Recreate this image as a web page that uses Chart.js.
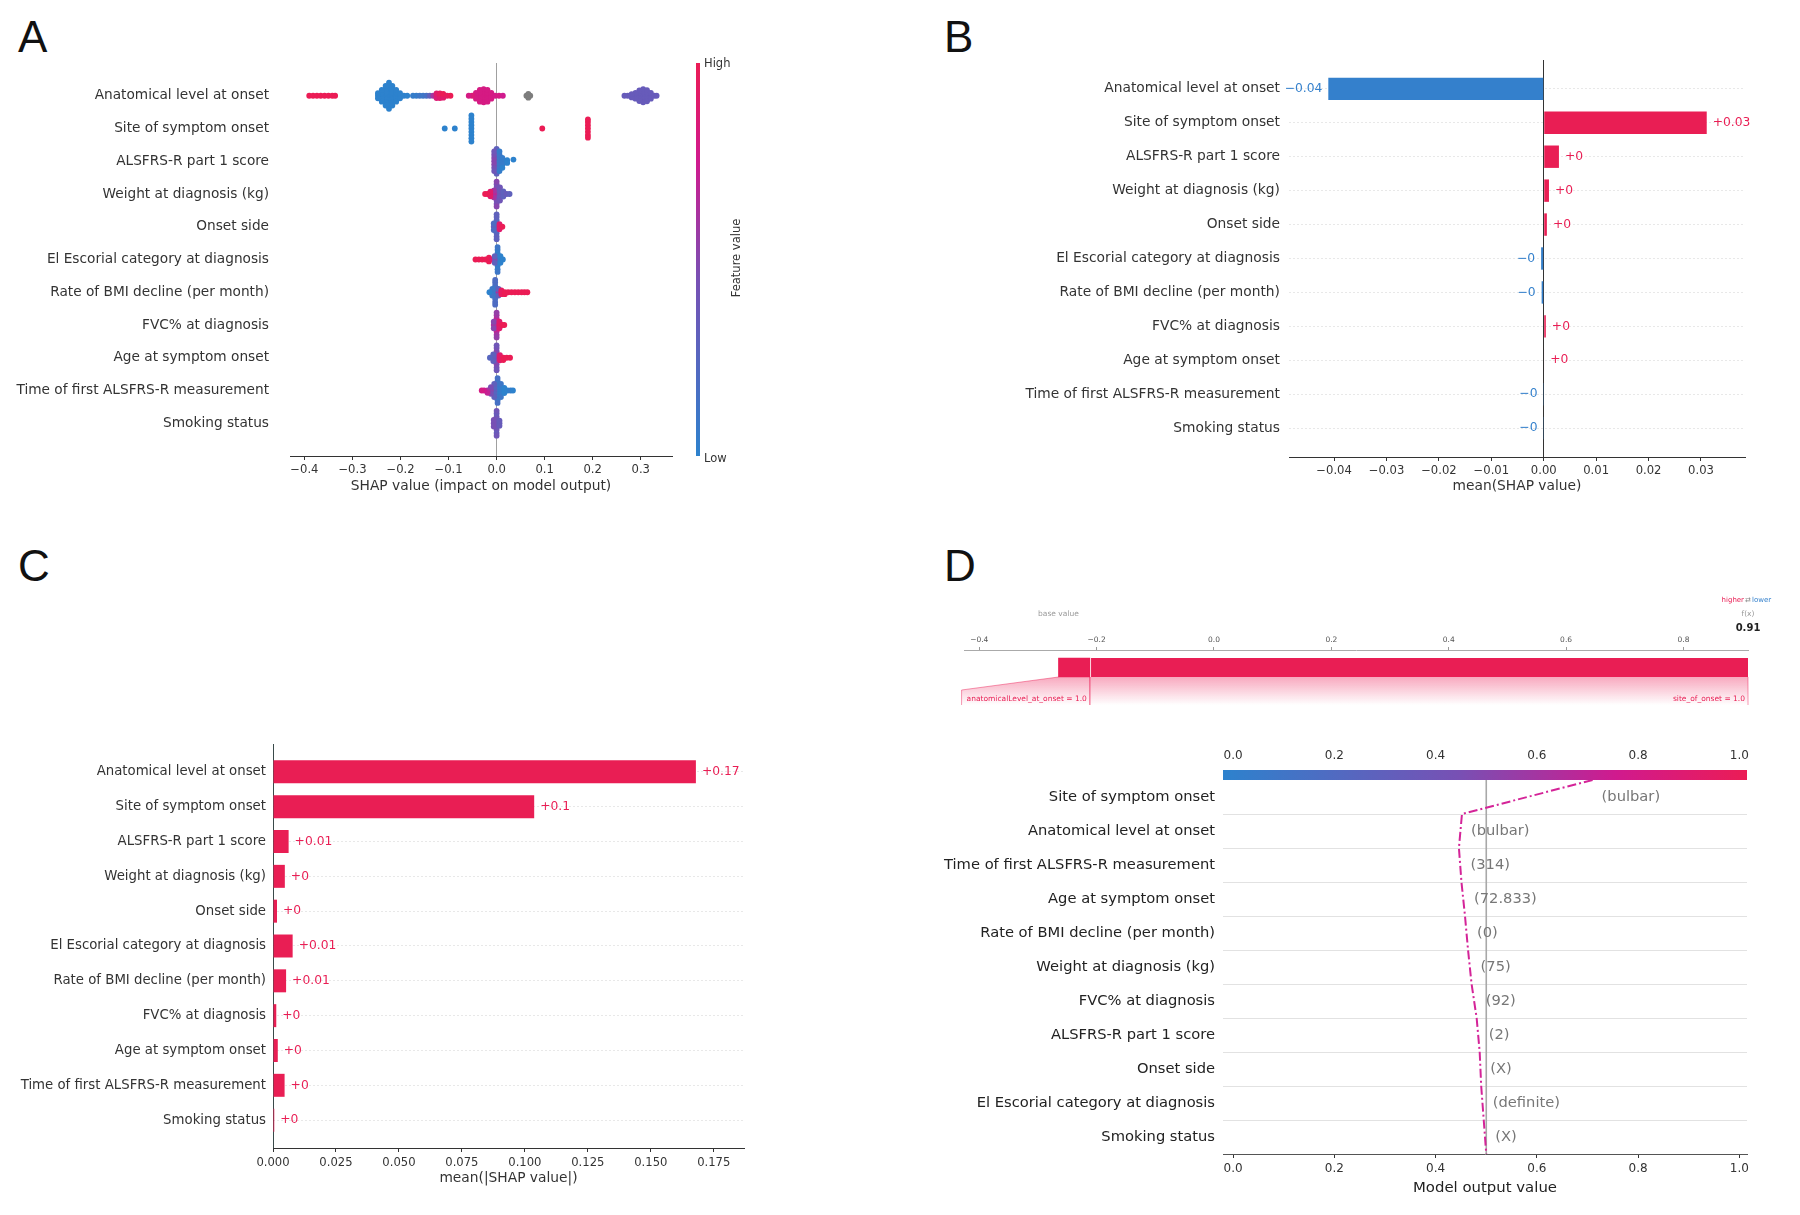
<!DOCTYPE html>
<html>
<head>
<meta charset="utf-8">
<title>SHAP explanations</title>
<script src="https://cdn.jsdelivr.net/npm/chart.js@4.4.1/dist/chart.umd.min.js"></script>
<style>
  html, body { margin: 0; padding: 0; background: #fff; }
  body { position: relative; width: 1800px; height: 1215px; overflow: hidden; font-family: "DejaVu Sans", sans-serif; color: #333; }
  canvas { position: absolute; }
  .letter { position: absolute; font-family: "Liberation Sans", Arial, sans-serif; font-size: 44px; line-height: 1; color: #111; }
  .cbar { position: absolute; left: 696px; top: 63px; width: 4px; height: 393px;
    background: linear-gradient(to bottom, rgb(235,28,85), rgb(208,26,142) 25%, rgb(120,80,180) 55%, rgb(45,130,205)); }
  .cbar-label { position: absolute; font-size: 11.5px; color: #333; white-space: nowrap; }
</style>
</head>
<body>
<div class="letter" style="left:18px;top:15px">A</div>
<div class="letter" style="left:944px;top:15px">B</div>
<div class="letter" style="left:18px;top:544px">C</div>
<div class="letter" style="left:944px;top:544px">D</div>

<canvas id="summaryChart" width="760" height="460" style="left:0;top:50px"></canvas>
<div class="cbar"></div>
<div class="cbar-label" style="left:704px;top:56px">High</div>
<div class="cbar-label" style="left:704px;top:451px">Low</div>
<div class="cbar-label" style="left:736px;top:258px;transform:translate(-50%,-50%) rotate(-90deg)">Feature value</div>

<canvas id="meanChart" width="860" height="460" style="left:940px;top:50px"></canvas>
<canvas id="absChart" width="780" height="470" style="left:0;top:740px"></canvas>
<canvas id="forceChart" width="840" height="130" style="left:940px;top:590px"></canvas>
<canvas id="decisionChart" width="860" height="480" style="left:940px;top:735px"></canvas>

<script>
const FEATURES = [
  "Anatomical level at onset",
  "Site of symptom onset",
  "ALSFRS-R part 1 score",
  "Weight at diagnosis (kg)",
  "Onset side",
  "El Escorial category at diagnosis",
  "Rate of BMI decline (per month)",
  "FVC% at diagnosis",
  "Age at symptom onset",
  "Time of first ALSFRS-R measurement",
  "Smoking status",
];

// beeswarm points per feature: [shap value, vertical offset in rows, feature value 0 (low) .. 1 (high), null = missing]
const SWARM_ANATOMICAL = [
  [-0.390,0,1],[-0.382,0,1],[-0.374,0,1],[-0.366,0,1],[-0.358,0,1],[-0.350,0,1],[-0.342,0,1],[-0.336,0,1],
  [-0.224,0,0],[-0.224,0.1,0],[-0.224,-0.1,0],[-0.224,0.2,0],[-0.224,-0.2,0],[-0.224,0.3,0],[-0.224,-0.3,0],[-0.224,0.4,0],[-0.224,-0.4,0],
  [-0.231,0,0],[-0.231,0.1,0],[-0.231,-0.1,0],[-0.231,0.2,0],[-0.231,-0.2,0],[-0.231,0.3,0],[-0.231,-0.3,0],
  [-0.217,0,0],[-0.217,0.1,0],[-0.217,-0.1,0],[-0.217,0.2,0],[-0.217,-0.2,0],[-0.217,0.3,0],[-0.217,-0.3,0],
  [-0.239,0,0],[-0.239,0.1,0],[-0.239,-0.1,0],[-0.239,0.18,0],[-0.239,-0.18,0],
  [-0.209,0,0],[-0.209,0.1,0],[-0.209,-0.1,0],[-0.209,0.18,0],[-0.209,-0.18,0],
  [-0.247,0,0],[-0.247,0.08,0],[-0.247,-0.08,0],
  [-0.201,0,0],[-0.201,0.08,0],[-0.201,-0.08,0],
  [-0.193,0,0],[-0.186,0,0],
  [-0.174,0,0.05],[-0.167,0,0.05],[-0.160,0,0.1],[-0.153,0,0.1],[-0.146,0,0.15],[-0.139,0,0.3],[-0.132,0,0.6],
  [-0.125,0,0.9],[-0.125,0.07,0.85],[-0.125,-0.07,0.9],
  [-0.118,0,0.95],[-0.118,0.07,0.9],[-0.118,-0.07,0.95],
  [-0.111,0,1],[-0.111,0.06,0.9],[-0.111,-0.06,1],
  [-0.103,0,0.95],[-0.096,0,1],
  [-0.027,0,0.8],[-0.027,0.1,0.8],[-0.027,-0.1,0.8],[-0.027,0.2,0.8],[-0.027,-0.2,0.8],
  [-0.035,0,0.8],[-0.035,0.1,0.8],[-0.035,-0.1,0.8],[-0.035,0.18,0.8],[-0.035,-0.18,0.8],
  [-0.019,0,0.8],[-0.019,0.1,0.8],[-0.019,-0.1,0.8],[-0.019,0.18,0.8],[-0.019,-0.18,0.8],
  [-0.043,0,0.8],[-0.043,0.09,0.8],[-0.043,-0.09,0.8],
  [-0.011,0,0.8],[-0.011,0.09,0.8],[-0.011,-0.09,0.8],
  [-0.051,0,0.85],[-0.058,0,0.8],[-0.003,0,0.78],[0.005,0,0.8],[0.013,0,0.75],
  [0.062,0,null],[0.070,0,null],[0.066,0.06,null],[0.066,-0.06,null],[0.066,0,null],
  [0.305,0,0.35],[0.305,0.1,0.35],[0.305,-0.1,0.35],[0.305,0.2,0.35],[0.305,-0.2,0.35],
  [0.313,0,0.35],[0.313,0.1,0.35],[0.313,-0.1,0.35],[0.313,0.17,0.35],[0.313,-0.17,0.35],
  [0.297,0,0.35],[0.297,0.1,0.35],[0.297,-0.1,0.35],[0.297,0.16,0.35],[0.297,-0.16,0.35],
  [0.321,0,0.35],[0.321,0.09,0.35],[0.321,-0.09,0.35],
  [0.289,0,0.35],[0.289,0.09,0.35],[0.289,-0.09,0.35],
  [0.328,0,0.35],[0.333,0,0.35],[0.281,0,0.35],[0.281,0.05,0.35],[0.281,-0.05,0.35],[0.273,0,0.35],[0.266,0,0.35],
];
const SWARM_SITE = [
  [-0.108,0,0],[-0.087,0,0],
  [-0.0525,0,0],[-0.0525,0.1,0],[-0.0525,-0.1,0],[-0.0525,0.2,0],[-0.0525,-0.2,0],[-0.0525,0.3,0],[-0.0525,-0.3,0],[-0.0525,0.4,0],[-0.0525,-0.4,0],
  [0.095,0,1],
  [0.19,0,1],[0.19,0.1,1],[0.19,-0.1,1],[0.19,0.2,1],[0.19,-0.2,1],[0.19,0.28,1],[0.19,-0.28,1],
];
const SWARM_ALSFRS = [
  [0,0,0.4],[0,0.1,0.4],[0,-0.1,0.4],[0,0.2,0.35],[0,-0.2,0.35],[0,0.3,0.3],[0,-0.3,0.3],[0,0.38,0.3],[0,-0.38,0.3],
  [-0.005,0,0.5],[-0.005,0.1,0.5],[-0.005,-0.1,0.5],[-0.005,0.2,0.45],[-0.005,-0.2,0.45],[-0.005,0.3,0.4],[-0.005,-0.3,0.4],
  [0.006,0,0.1],[0.006,0.1,0.1],[0.006,-0.1,0.1],[0.006,0.2,0.1],[0.006,-0.2,0.1],[0.006,0.3,0.05],[0.006,-0.3,0.05],
  [0.012,0,0.05],[0.012,0.1,0.05],[0.012,-0.1,0.05],[0.012,0.2,0],
  [0.022,-0.03,0],[0.022,0.05,0],[0.035,-0.05,0],
];
const SWARM_WEIGHT = [
  [0,0,0.5],[0,0.1,0.5],[0,-0.1,0.5],[0,0.2,0.45],[0,-0.2,0.45],[0,0.3,0.45],[0,-0.3,0.45],[0,0.38,0.5],[0,-0.38,0.5],
  [-0.006,0,0.7],[-0.006,0.1,0.6],[-0.006,-0.1,0.6],
  [-0.013,0,0.9],[-0.013,0.07,0.9],[-0.013,-0.07,0.9],[-0.019,0,1],[-0.024,0,1],
  [0.007,0,0.4],[0.007,0.1,0.35],[0.007,-0.1,0.35],[0.007,0.2,0.4],[0.007,-0.2,0.4],
  [0.014,0,0.3],[0.014,0.08,0.3],[0.014,-0.08,0.3],[0.021,0,0.35],[0.027,0,0.3],
];
const SWARM_ONSET_SIDE = [
  [0,0,0.2],[0,0.1,0.2],[0,-0.1,0.2],[0,0.2,0.25],[0,-0.2,0.25],[0,0.3,0.3],[0,-0.3,0.3],[0,0.38,0.3],[0,-0.38,0.3],
  [-0.006,0,0.3],[-0.006,0.1,0.2],[-0.006,-0.1,0.2],
  [0.006,0,0.95],[0.006,0.08,0.9],[0.006,-0.08,0.9],[0.012,0,1],
];
const SWARM_EL_ESCORIAL = [
  [-0.044,0,1],[-0.037,0,1],[-0.030,0,1],[-0.023,0,1],[-0.016,0,1],[-0.016,0.06,1],[-0.016,-0.06,1],[-0.009,0,0.9],
  [0.002,0,0.1],[0.002,0.1,0.1],[0.002,-0.1,0.1],[0.002,0.2,0.05],[0.002,-0.2,0.05],[0.002,0.3,0.05],[0.002,-0.3,0.05],[0.002,0.38,0.1],[0.002,-0.38,0.1],
  [-0.004,0,0.5],[-0.004,0.1,0.3],[-0.004,-0.1,0.3],
  [0.008,0,0.05],[0.008,0.1,0],[0.008,-0.1,0],[0.013,0,0],
];
const SWARM_BMI = [
  [-0.003,0,0.1],[-0.003,0.1,0.1],[-0.003,-0.1,0.1],[-0.003,0.2,0.15],[-0.003,-0.2,0.15],[-0.003,0.3,0.2],[-0.003,-0.3,0.2],[-0.003,0.38,0.2],[-0.003,-0.38,0.2],
  [-0.009,0,0.05],[-0.009,0.1,0.1],[-0.009,-0.1,0.1],[-0.015,0,0],
  [0.004,0,0.6],[0.004,0.1,0.3],[0.004,-0.1,0.3],
  [0.010,0,1],[0.010,0.06,0.95],[0.010,-0.06,0.95],[0.017,0,1],[0.017,0.06,1],[0.024,0,1],[0.031,0,1],[0.038,0,1],[0.045,0,1],[0.052,0,1],[0.058,0,1],[0.064,0,1],
];
const SWARM_FVC = [
  [0,0,0.8],[0,0.1,0.75],[0,-0.1,0.75],[0,0.2,0.7],[0,-0.2,0.7],[0,0.3,0.6],[0,-0.3,0.6],[0,0.38,0.55],[0,-0.38,0.55],
  [-0.006,0,0.6],[-0.006,0.1,0.5],[-0.006,-0.1,0.5],
  [0.006,0,0.95],[0.006,0.1,0.9],[0.006,-0.1,0.9],[0.012,0,1],[0.016,0,1],
];
const SWARM_AGE = [
  [0,0,0.6],[0,0.1,0.55],[0,-0.1,0.55],[0,0.2,0.5],[0,-0.2,0.5],[0,0.3,0.45],[0,-0.3,0.45],[0,0.38,0.4],[0,-0.38,0.4],
  [-0.007,0,0.35],[-0.007,0.1,0.3],[-0.007,-0.1,0.3],[-0.014,0,0.25],
  [0.007,0,0.95],[0.007,0.08,0.9],[0.007,-0.08,0.9],[0.014,0,1],[0.014,0.07,1],[0.021,0,1],[0.028,0,1],
];
const SWARM_TIME = [
  [0.002,0,0.1],[0.002,0.1,0.1],[0.002,-0.1,0.1],[0.002,0.2,0.1],[0.002,-0.2,0.1],[0.002,0.3,0.1],[0.002,-0.3,0.1],[0.002,0.38,0.15],[0.002,-0.38,0.15],
  [-0.005,0,0.3],[-0.005,0.1,0.25],[-0.005,-0.1,0.25],[-0.005,0.2,0.3],[-0.005,-0.2,0.3],
  [-0.012,0,0.5],[-0.012,0.1,0.45],[-0.012,-0.1,0.45],[-0.019,0,0.6],[-0.019,0.07,0.7],[-0.026,0,0.75],[-0.031,0,0.8],
  [0.009,0,0.05],[0.009,0.1,0.05],[0.009,-0.1,0.05],[0.009,0.2,0.1],[0.009,-0.2,0.1],
  [0.016,0,0],[0.016,0.08,0],[0.016,-0.08,0],[0.023,0,0],[0.029,0,0.05],[0.034,0,0],
];
const SWARM_SMOKING = [
  [0,0,0.4],[0,0.1,0.4],[0,-0.1,0.4],[0,0.2,0.4],[0,-0.2,0.4],[0,0.3,0.35],[0,-0.3,0.35],[0,0.38,0.4],[0,-0.38,0.4],
  [-0.006,0,0.45],[-0.006,0.1,0.45],[-0.006,-0.1,0.45],[0.006,0,0.35],[0.006,0.08,0.35],[0.006,-0.08,0.35],
];
const A_TICKS = [-0.4, -0.3, -0.2, -0.1, 0, 0.1, 0.2, 0.3];

const B_VALUES = [-0.0411, 0.0311, 0.0029, 0.0010, 0.0006, -0.0005, -0.0004, 0.0004, 0.0001, -0.00005, -0.00005];
const B_LABELS = ["\u22120.04", "+0.03", "+0", "+0", "+0", "\u22120", "\u22120", "+0", "+0", "\u22120", "\u22120"];
const B_TICKS = [-0.04, -0.03, -0.02, -0.01, 0, 0.01, 0.02, 0.03];

const C_VALUES = [0.1679, 0.1037, 0.0062, 0.0047, 0.0016, 0.0078, 0.0052, 0.0013, 0.0019, 0.0046, 0.0005];
const C_LABELS = ["+0.17", "+0.1", "+0.01", "+0", "+0", "+0.01", "+0.01", "+0", "+0", "+0", "+0"];
const C_TICKS = [0, 0.025, 0.05, 0.075, 0.1, 0.125, 0.15, 0.175];

const FORCE_FEATURES = ["anatomicalLevel_at_onset = 1.0", "site_of_onset = 1.0"];
const FORCE_STARTS = [-0.265, -0.2115];
const FORCE_ENDS = [-0.2115, 0.91];
const FORCE_BASE = -0.265;
const FORCE_FX = 0.91;
const FORCE_TICKS = [-0.4, -0.2, 0, 0.2, 0.4, 0.6, 0.8];

const DECISION_FEATURES = [
  "Site of symptom onset",
  "Anatomical level at onset",
  "Time of first ALSFRS-R measurement",
  "Age at symptom onset",
  "Rate of BMI decline (per month)",
  "Weight at diagnosis (kg)",
  "FVC% at diagnosis",
  "ALSFRS-R part 1 score",
  "Onset side",
  "El Escorial category at diagnosis",
  "Smoking status",
];
const DECISION_VALUES = ["(bulbar)", "(bulbar)", "(314)", "(72.833)", "(0)", "(75)", "(92)", "(2)", "(X)", "(definite)", "(X)"];
// model output at each row boundary, from the top of the plot down to the base value
const DECISION_PATH = [0.71, 0.452, 0.446, 0.451, 0.458, 0.464, 0.471, 0.481, 0.487, 0.490, 0.495, 0.500];
const DECISION_BASE = 0.5;
const DECISION_TICKS = [0, 0.2, 0.4, 0.6, 0.8, 1.0];

const RED = "rgb(233,30,84)";
const BLUE = "rgb(52,128,204)";
const TEXT = "#333";
const COLOR_STOPS = [
  [0, [45, 130, 205]],
  [0.45, [120, 80, 180]],
  [0.75, [208, 26, 142]],
  [1, [235, 28, 85]],
];

function colorFor(c) {
  if (c === null) return "rgb(125,125,125)";
  for (let i = 1; i < COLOR_STOPS.length; i++) {
    const [p0, c0] = COLOR_STOPS[i - 1];
    const [p1, c1] = COLOR_STOPS[i];
    if (c <= p1) {
      const t = (c - p0) / (p1 - p0);
      return `rgb(${c0.map((v, k) => Math.round(v + (c1[k] - v) * t)).join(",")})`;
    }
  }
  return `rgb(${COLOR_STOPS[COLOR_STOPS.length - 1][1].join(",")})`;
}

function fmt(v, digits) {
  const s = Math.abs(v).toFixed(digits);
  return v < -1e-12 ? "\u2212" + s : s;
}

function setTicks(values) {
  return (scale) => { scale.ticks = values.map((value) => ({ value })); };
}

// label axis: fixed width, and no extra edge padding pushed onto the plot area
function fixWidth(px) {
  return (scale) => {
    scale.width = px;
    scale.paddingTop = 0;
    scale.paddingBottom = 0;
  };
}

function fixHeight(px) {
  return (scale) => { scale.height = px; };
}

Chart.defaults.font.family = '"DejaVu Sans", sans-serif';
Chart.defaults.color = TEXT;
Chart.defaults.animation = false;
Chart.defaults.responsive = false;
Chart.defaults.events = [];
Chart.defaults.plugins.legend.display = false;
Chart.defaults.plugins.tooltip.enabled = false;

const barValueLabels = {
  id: "barValueLabels",
  afterDatasetsDraw(chart, _args, opts) {
    const { ctx } = chart;
    ctx.save();
    ctx.font = '12.3px "DejaVu Sans"';
    ctx.textBaseline = "middle";
    chart.getDatasetMeta(0).data.forEach((bar, i) => {
      const text = opts.labels[i];
      const negative = text.startsWith("\u2212");
      ctx.fillStyle = negative ? BLUE : RED;
      ctx.textAlign = negative ? "right" : "left";
      ctx.fillText(text, bar.x + (negative ? -6 : 6), bar.y);
    });
    ctx.restore();
  },
};

function drawSummary() {
  const rows = [SWARM_ANATOMICAL, SWARM_SITE, SWARM_ALSFRS, SWARM_WEIGHT, SWARM_ONSET_SIDE, SWARM_EL_ESCORIAL,
    SWARM_BMI, SWARM_FVC, SWARM_AGE, SWARM_TIME, SWARM_SMOKING];
  const points = rows.flatMap((pts, row) => pts.map(([x, dy, c]) => ({ x, y: row + dy, c })));

  new Chart(document.getElementById("summaryChart"), {
    type: "scatter",
    data: {
      datasets: [{
        data: points,
        pointRadius: 2.9,
        pointBorderWidth: 0,
        pointBackgroundColor: (ctx) => colorFor(ctx.raw.c),
      }],
    },
    options: {
      layout: { padding: { top: 13, right: 88, bottom: 0, left: 0 } },
      scales: {
        x: {
          min: -0.43,
          max: 0.365,
          afterBuildTicks: setTicks(A_TICKS),
          afterFit: fixHeight(54),
          ticks: { callback: (v) => fmt(v, 1), font: { size: 11.6 }, padding: 3.5, color: TEXT },
          grid: {
            color: (ctx) => (ctx.tick && ctx.tick.value === 0 ? "#a0a0a0" : "transparent"),
            tickColor: TEXT,
            tickLength: 4,
          },
          border: { color: TEXT },
          title: { display: true, text: "SHAP value (impact on model output)", font: { size: 13.8 }, color: TEXT, padding: { top: 0, bottom: 15 } },
        },
        y: {
          min: -1,
          max: 11,
          reverse: true,
          afterBuildTicks: setTicks(FEATURES.map((_, i) => i)),
          afterFit: fixWidth(290),
          ticks: { callback: (v) => FEATURES[v], font: { size: 13.7 }, padding: 21, color: TEXT, autoSkip: false },
          grid: { display: false, drawTicks: false },
          border: { display: false },
        },
      },
    },
  });
}

function drawMeanBars(canvasId, cfg) {
  new Chart(document.getElementById(canvasId), {
    type: "bar",
    data: {
      datasets: [{
        data: cfg.values.map((v, i) => ({ x: v, y: i })),
        backgroundColor: (ctx) => (ctx.raw.x < 0 ? BLUE : RED),
        barPercentage: 0.66,
        categoryPercentage: 1,
      }],
    },
    plugins: [barValueLabels],
    options: {
      indexAxis: "y",
      layout: { padding: cfg.padding },
      plugins: { barValueLabels: { labels: cfg.labels } },
      scales: {
        x: {
          type: "linear",
          min: cfg.xMin,
          max: cfg.xMax,
          afterBuildTicks: setTicks(cfg.ticks),
          afterFit: fixHeight(cfg.xHeight),
          ticks: { callback: (v) => fmt(v, cfg.digits), font: { size: 11.6 }, padding: cfg.tickPad, color: TEXT },
          grid: {
            color: (ctx) => (ctx.tick && ctx.tick.value === 0 ? cfg.zeroColor : "transparent"),
            tickColor: TEXT,
            tickLength: 4,
          },
          border: { color: TEXT },
          title: { display: true, text: cfg.title, font: { size: 13.8 }, color: TEXT, padding: { top: 0, bottom: cfg.titlePad } },
        },
        y: {
          type: "linear",
          offset: false,
          min: cfg.yMin,
          max: cfg.yMax,
          reverse: true,
          afterBuildTicks: setTicks(FEATURES.map((_, i) => i)),
          afterFit: fixWidth(cfg.yWidth),
          ticks: { callback: (v) => FEATURES[v], font: { size: cfg.labelSize }, padding: cfg.labelPad, color: TEXT, autoSkip: false },
          grid: { offset: false, color: "rgba(0,0,0,0.09)", drawTicks: false },
          border: { display: false, dash: [2, 2] },
        },
      },
    },
  });
}

const forceDecor = {
  id: "forceDecor",
  afterDatasetsDraw(chart) {
    const { ctx } = chart;
    const x = chart.scales.x;
    ctx.save();
    ctx.font = '7.5px "DejaVu Sans"';
    FORCE_FEATURES.forEach((name, i) => {
      const bar = chart.getDatasetMeta(i).data[0];
      const barBottom = bar.y + bar.height / 2;
      const x0 = x.getPixelForValue(FORCE_STARTS[i]);
      const x1 = x.getPixelForValue(FORCE_ENDS[i]);
      const left = Math.min(x0, x1 - ctx.measureText(name).width - 8);
      const drop = 28;
      const grad = ctx.createLinearGradient(0, barBottom, 0, barBottom + drop);
      grad.addColorStop(0, "rgba(235,28,85,0.38)");
      grad.addColorStop(1, "rgba(235,28,85,0)");
      ctx.beginPath();
      ctx.moveTo(x0, barBottom);
      ctx.lineTo(x1, barBottom);
      ctx.lineTo(x1, barBottom + drop);
      ctx.lineTo(left, barBottom + drop);
      ctx.lineTo(left, barBottom + 13);
      ctx.closePath();
      ctx.fillStyle = grad;
      ctx.fill();

      ctx.strokeStyle = "rgba(235,28,85,0.45)";
      ctx.lineWidth = 1;
      ctx.beginPath();
      ctx.moveTo(x0, barBottom);
      ctx.lineTo(left, barBottom + 13);
      ctx.lineTo(left, barBottom + drop);
      ctx.moveTo(x1, barBottom);
      ctx.lineTo(x1, barBottom + drop);
      ctx.stroke();

      ctx.fillStyle = RED;
      ctx.textAlign = "right";
      ctx.textBaseline = "middle";
      ctx.fillText(name, x1 - 3, barBottom + 22);
    });

    const bx = x.getPixelForValue(FORCE_BASE);
    const fx = x.getPixelForValue(FORCE_FX);
    ctx.textBaseline = "middle";
    ctx.textAlign = "center";
    ctx.fillStyle = "#9a9a9a";
    ctx.fillText("base value", bx, 24);
    ctx.fillText("f(x)", fx, 24);
    ctx.font = 'bold 10px "DejaVu Sans"';
    ctx.fillStyle = "#222";
    ctx.fillText(FORCE_FX.toFixed(2), fx, 38);
    ctx.font = '7px "DejaVu Sans"';
    ctx.textAlign = "right";
    ctx.fillStyle = RED;
    ctx.fillText("higher", fx - 4, 10);
    ctx.textAlign = "center";
    ctx.fillStyle = "#888";
    ctx.fillText("\u21c4", fx, 10);
    ctx.textAlign = "left";
    ctx.fillStyle = BLUE;
    ctx.fillText("lower", fx + 4, 10);
    ctx.restore();
  },
};

function drawForce() {
  new Chart(document.getElementById("forceChart"), {
    type: "bar",
    data: {
      labels: ["output"],
      datasets: FORCE_FEATURES.map((_, i) => ({
        data: [[FORCE_STARTS[i], FORCE_ENDS[i]]],
        backgroundColor: RED,
        borderColor: "#fff",
        borderWidth: i > 0 ? { left: 1.5 } : 0,
        borderSkipped: false,
        barThickness: 19,
        grouped: false,
      })),
    },
    plugins: [forceDecor],
    options: {
      indexAxis: "y",
      layout: { padding: { top: 0, right: 32, bottom: 35, left: 24 } },
      scales: {
        x: {
          type: "linear",
          position: "top",
          min: -0.426,
          max: FORCE_FX,
          afterBuildTicks: setTicks(FORCE_TICKS),
          afterFit: fixHeight(60),
          ticks: { callback: (v) => fmt(v, 1), font: { size: 7.5 }, color: "#555", padding: 2 },
          grid: { drawOnChartArea: false, tickLength: 3, tickColor: "#999" },
          border: { color: "#aaa" },
        },
        y: { display: false },
      },
    },
  });
}

const decisionDecor = {
  id: "decisionDecor",
  beforeDatasetsDraw(chart) {
    const { ctx, chartArea: area } = chart;
    const y = chart.scales.y;
    ctx.save();
    ctx.strokeStyle = "#e2e2e2";
    ctx.lineWidth = 1;
    for (let k = 1; k < DECISION_FEATURES.length; k++) {
      const py = Math.round(y.getPixelForValue(k)) + 0.5;
      ctx.beginPath();
      ctx.moveTo(area.left, py);
      ctx.lineTo(area.right, py);
      ctx.stroke();
    }
    const grad = ctx.createLinearGradient(area.left, 0, area.right, 0);
    COLOR_STOPS.forEach(([p, rgb]) => grad.addColorStop(p, `rgb(${rgb.join(",")})`));
    ctx.fillStyle = grad;
    ctx.fillRect(area.left, area.top - 10, area.right - area.left, 10);
    ctx.restore();
  },
  afterDatasetsDraw(chart) {
    const { ctx } = chart;
    const x = chart.scales.x;
    const y = chart.scales.y;
    const n = DECISION_FEATURES.length;
    ctx.save();
    ctx.font = '14.7px "DejaVu Sans"';
    ctx.fillStyle = "#777";
    ctx.textAlign = "left";
    ctx.textBaseline = "middle";
    DECISION_VALUES.forEach((text, i) => {
      const reach = Math.max(DECISION_PATH[i], DECISION_PATH[i + 1]);
      ctx.fillText(text, x.getPixelForValue(reach) + 9, y.getPixelForValue(n - 0.5 - i));
    });
    ctx.restore();
  },
};

function drawDecision() {
  const n = DECISION_FEATURES.length;
  new Chart(document.getElementById("decisionChart"), {
    type: "scatter",
    data: {
      datasets: [
        {
          data: DECISION_PATH.map((v, k) => ({ x: v, y: n - k })),
          showLine: true,
          borderColor: "rgb(212,36,152)",
          borderWidth: 2,
          borderDash: [9, 3, 2, 3],
          pointRadius: 0,
          order: 1,
        },
        {
          data: [{ x: DECISION_BASE, y: 0 }, { x: DECISION_BASE, y: n }],
          showLine: true,
          borderColor: "#a8a8a8",
          borderWidth: 1.6,
          pointRadius: 0,
          order: 2,
        },
      ],
    },
    plugins: [decisionDecor],
    options: {
      layout: { padding: { top: 0, right: 53, bottom: 0, left: 0 } },
      scales: {
        x: {
          type: "linear",
          position: "bottom",
          min: -0.02,
          max: 1.015,
          afterBuildTicks: setTicks(DECISION_TICKS),
          afterFit: fixHeight(61),
          ticks: { callback: (v) => v.toFixed(1), font: { size: 12 }, padding: 4, color: TEXT },
          grid: { drawOnChartArea: false, tickLength: 4, tickColor: TEXT },
          border: { color: "#555" },
          title: { display: true, text: "Model output value", font: { size: 14.9 }, color: "#222", padding: { top: 0, bottom: 18 } },
        },
        x2: {
          type: "linear",
          position: "top",
          min: -0.02,
          max: 1.015,
          afterBuildTicks: setTicks(DECISION_TICKS),
          afterFit: fixHeight(45),
          ticks: { callback: (v) => v.toFixed(1), font: { size: 12 }, padding: 17, color: TEXT },
          grid: { drawOnChartArea: false, drawTicks: false },
          border: { display: false },
        },
        y: {
          type: "linear",
          min: 0,
          max: n,
          afterBuildTicks: setTicks(DECISION_FEATURES.map((_, i) => i + 0.5)),
          afterFit: fixWidth(283),
          ticks: { callback: (v) => DECISION_FEATURES[n - 0.5 - v], font: { size: 14.7 }, padding: 8, color: "#222", autoSkip: false },
          grid: { display: false, drawTicks: false },
          border: { display: false },
        },
      },
    },
  });
}

drawSummary();
drawMeanBars("meanChart", {
  values: B_VALUES,
  labels: B_LABELS,
  ticks: B_TICKS,
  digits: 2,
  xMin: -0.0486,
  xMax: 0.0384,
  yMin: -0.85,
  yMax: 10.85,
  yWidth: 349,
  xHeight: 53,
  padding: { top: 10, right: 55, bottom: 0, left: 0 },
  tickPad: 2.8,
  titlePad: 15,
  labelSize: 13.8,
  labelPad: 9,
  zeroColor: "#333",
  title: "mean(SHAP value)",
});
drawMeanBars("absChart", {
  values: C_VALUES,
  labels: C_LABELS,
  ticks: C_TICKS,
  digits: 3,
  xMin: 0,
  xMax: 0.187,
  yMin: -0.8,
  yMax: 10.8,
  yWidth: 273,
  xHeight: 62,
  padding: { top: 4, right: 36, bottom: 0, left: 0 },
  tickPad: 4,
  titlePad: 23,
  labelSize: 13.3,
  labelPad: 7,
  zeroColor: "#3a4a4a",
  title: "mean(|SHAP value|)",
});
drawForce();
drawDecision();
</script>
</body>
</html>
